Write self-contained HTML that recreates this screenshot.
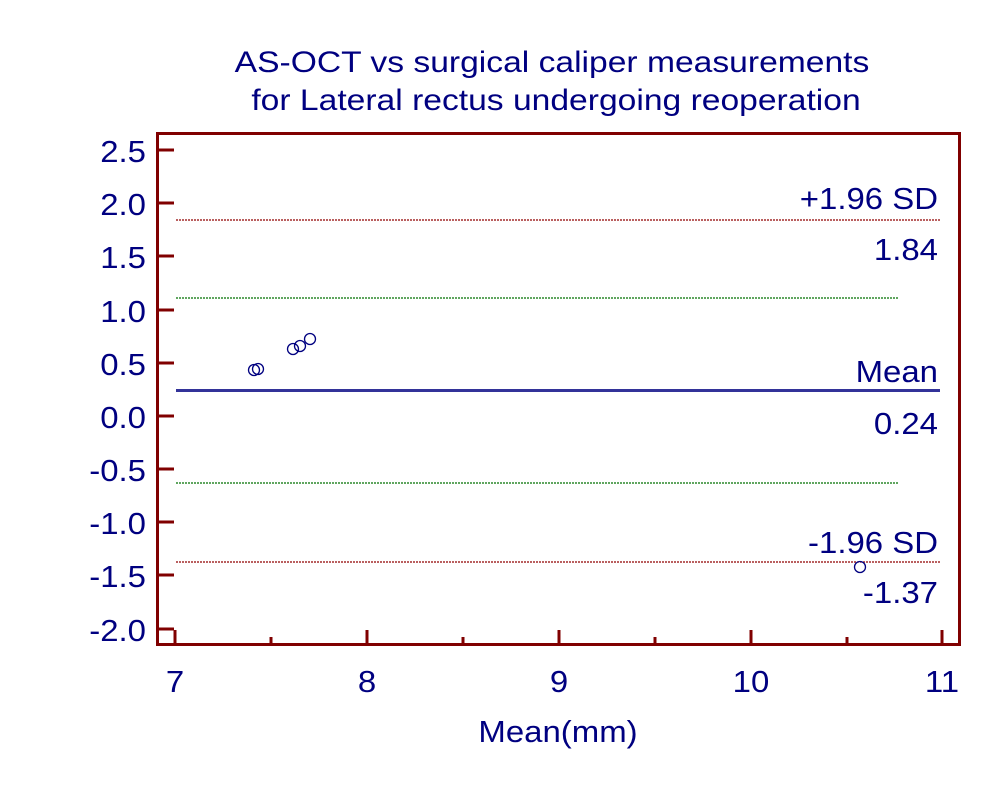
<!DOCTYPE html>
<html><head><style>body{margin:0;background:#fff}svg{display:block}</style></head><body>
<svg width="1000" height="788" xmlns="http://www.w3.org/2000/svg" font-family="Liberation Sans, sans-serif" fill="#000080">
<g font-size="29.5" text-anchor="middle">
<text transform="translate(552,72) scale(1.14,1)">AS-OCT vs surgical caliper measurements</text>
<text transform="translate(556,110) scale(1.14,1)">for Lateral rectus undergoing reoperation</text>
</g>
<line x1="176" y1="220" x2="940" y2="220" stroke="#900000" stroke-width="1.2" stroke-dasharray="2,1"/>
<line x1="176" y1="562" x2="940" y2="562" stroke="#900000" stroke-width="1.2" stroke-dasharray="2,1"/>
<line x1="176" y1="298" x2="898" y2="298" stroke="#007000" stroke-width="1.2" stroke-dasharray="2,1"/>
<line x1="176" y1="483" x2="898" y2="483" stroke="#007000" stroke-width="1.2" stroke-dasharray="2,1"/>
<line x1="176" y1="390.5" x2="940" y2="390.5" stroke="#333399" stroke-width="3"/>
<g font-size="30.5" text-anchor="end">
<text transform="translate(938,209) scale(1.08,1)">+1.96 SD</text><text transform="translate(938,260) scale(1.08,1)">1.84</text>
<text transform="translate(938,382) scale(1.08,1)">Mean</text><text transform="translate(938,434) scale(1.08,1)">0.24</text>
<text transform="translate(938,553) scale(1.08,1)">-1.96 SD</text><text transform="translate(938,603) scale(1.08,1)">-1.37</text>
</g>
<g fill="none" stroke="#000080" stroke-width="1.3">
<circle cx="254" cy="370" r="5.5"/><circle cx="258" cy="369" r="5.5"/><circle cx="293" cy="349" r="5.5"/><circle cx="300" cy="346" r="5.5"/><circle cx="310" cy="339" r="5.5"/><circle cx="860" cy="567" r="5.5"/>
</g>
<path d="M157.5 644.5 V133.5 H959.5 V644.5 Z" fill="none" stroke="#800000" stroke-width="3"/>
<g stroke="#800000" stroke-width="3">
<line x1="157" y1="150" x2="174" y2="150"/><line x1="157" y1="203" x2="174" y2="203"/><line x1="157" y1="256" x2="174" y2="256"/><line x1="157" y1="310" x2="174" y2="310"/><line x1="157" y1="363" x2="174" y2="363"/><line x1="157" y1="416" x2="174" y2="416"/><line x1="157" y1="469" x2="174" y2="469"/><line x1="157" y1="522" x2="174" y2="522"/><line x1="157" y1="575" x2="174" y2="575"/><line x1="157" y1="629" x2="174" y2="629"/>
<line x1="175" y1="644" x2="175" y2="630"/><line x1="367" y1="644" x2="367" y2="630"/><line x1="559" y1="644" x2="559" y2="630"/><line x1="751" y1="644" x2="751" y2="630"/><line x1="942" y1="644" x2="942" y2="630"/>
<line x1="271" y1="644" x2="271" y2="637"/><line x1="463" y1="644" x2="463" y2="637"/><line x1="655" y1="644" x2="655" y2="637"/><line x1="847" y1="644" x2="847" y2="637"/>
</g>
<g font-size="30.5" text-anchor="end">
<text transform="translate(146,162) scale(1.08,1)">2.5</text><text transform="translate(146,215) scale(1.08,1)">2.0</text><text transform="translate(146,268) scale(1.08,1)">1.5</text><text transform="translate(146,322) scale(1.08,1)">1.0</text><text transform="translate(146,375) scale(1.08,1)">0.5</text><text transform="translate(146,428) scale(1.08,1)">0.0</text><text transform="translate(146,481) scale(1.08,1)">-0.5</text><text transform="translate(146,534) scale(1.08,1)">-1.0</text><text transform="translate(146,587) scale(1.08,1)">-1.5</text><text transform="translate(146,641) scale(1.08,1)">-2.0</text>
</g>
<g font-size="30.5" text-anchor="middle">
<text transform="translate(175,692) scale(1.08,1)">7</text><text transform="translate(367,692) scale(1.08,1)">8</text><text transform="translate(559,692) scale(1.08,1)">9</text><text transform="translate(751,692) scale(1.08,1)">10</text><text transform="translate(942,692) scale(1.08,1)">11</text>
<text transform="translate(558,742) scale(1.08,1)">Mean(mm)</text>
</g>
</svg>
</body></html>
